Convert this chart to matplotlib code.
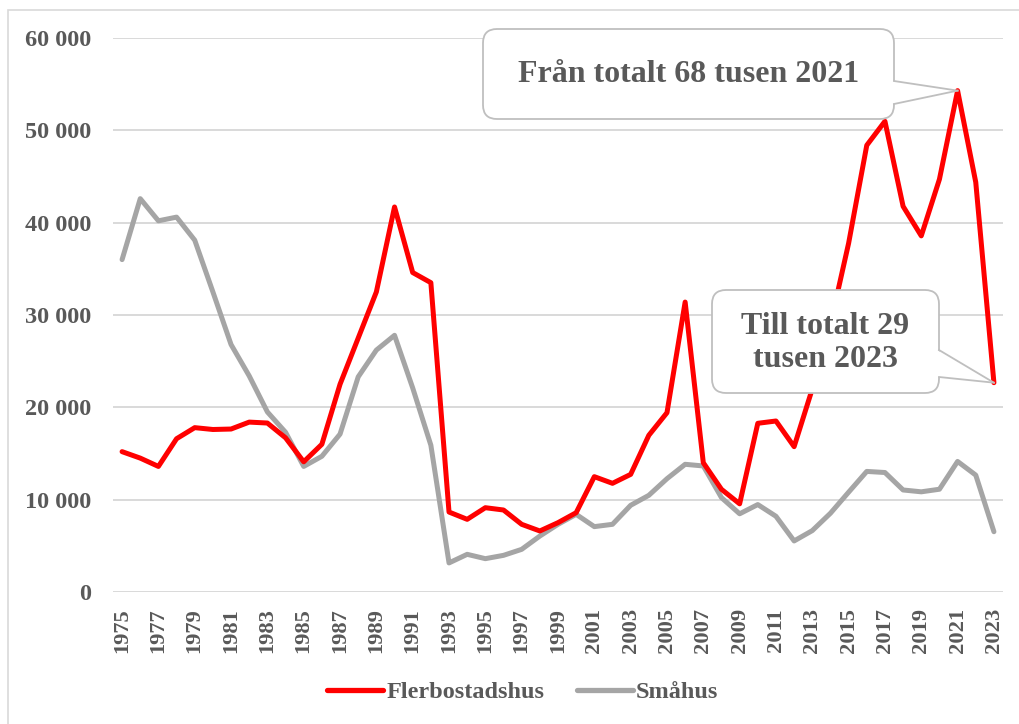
import numpy as np
import matplotlib
matplotlib.use("Agg")
import matplotlib.pyplot as plt
from matplotlib.patches import FancyBboxPatch, Polygon, Rectangle
from matplotlib.lines import Line2D

# bostäder påbörjade per år
years = list(range(1975, 2024))
flerbostadshus = [
    15200, 14500, 13600, 16600, 17800, 17600, 17650, 18400, 18300, 16700,
    14100, 16000, 22500, 27500, 32500, 41700, 34600, 33500, 8660, 7870,
    9130, 8880, 7330, 6610, 7510, 8590, 12490, 11770, 12740, 16970,
    19420, 31400, 14000, 11120, 9550, 18270, 18520, 15740, 22000, 29000,
    37770, 48380, 50980, 41770, 38570, 44700, 54300, 44380, 22670,
]
smahus = [
    36000, 42600, 40200, 40600, 38100, 32500, 26800, 23400, 19500, 17300,
    13600, 14700, 17100, 23300, 26200, 27800, 22100, 15900, 3150, 4080,
    3610, 3970, 4620, 6060, 7330, 8410, 7080, 7330, 9390, 10470,
    12270, 13830, 13650, 10220, 8470, 9470, 8200, 5530, 6650, 8530,
    10810, 13060, 12940, 11050, 10850, 11130, 14140, 12660, 6530,
]
series_names = ["Flerbostadshus", "Småhus"]
y_ticks = [0, 10000, 20000, 30000, 40000, 50000, 60000]
callout_1 = "Från totalt 68 tusen 2021"
callout_2 = "Till totalt 29\ntusen 2023"

RED = "#FF0000"
GREY = "#A5A5A5"
TXT = "#595959"
GRID = "#D9D9D9"
FONT = "Liberation Serif"

W, H = 1019, 724
fig = plt.figure(figsize=(W / 100, H / 100), dpi=100)


def fx(px):
    return px / W


def fy(py):
    return 1 - py / H


# outer chart border (only top/left visible in the crop)
fig.patches.append(Rectangle((fx(8), fy(740)), fx(1030 - 8), fy(10) - fy(740),
                             transform=fig.transFigure, fill=False,
                             edgecolor=GRID, lw=1.2))

ax = fig.add_axes([fx(113), fy(592), fx(1003) - fx(113), fy(38) - fy(592)])
ax.set_xlim(1974.5, 2023.5)
ax.set_ylim(0, 60000)

for s in ax.spines.values():
    s.set_visible(False)
ax.set_yticks(y_ticks)
ax.set_yticklabels([f"{v:,}".replace(",", " ") for v in y_ticks])
ax.yaxis.grid(True, color=GRID, lw=1.4)
ax.set_axisbelow(True)
ax.set_xticks(years[::2])
ax.set_xticklabels([str(y) for y in years[::2]], rotation=90)
ax.tick_params(axis="y", length=0, pad=15.5, labelsize=17.5, labelcolor=TXT)
ax.tick_params(axis="x", length=0, pad=11.5, labelsize=16.2, labelcolor=TXT)
for lab in ax.get_xticklabels() + ax.get_yticklabels():
    lab.set_fontfamily(FONT)
    lab.set_fontweight("bold")

ax.plot(years, flerbostadshus, color=RED, lw=3.6, solid_joinstyle="round",
        solid_capstyle="round", zorder=3)
ax.plot(years, smahus, color=GREY, lw=3.6, solid_joinstyle="round",
        solid_capstyle="round", zorder=2)


def callout(box, base_y, tip_xy, text, size, text_y=None):
    # box = (left, top, right, bottom) in pixels, tip in data coords
    l, t, r, b = box
    tip = ax.transData.transform(tip_xy)
    tipf = fig.transFigure.inverted().transform(tip)
    rad = 14
    fig.patches.append(FancyBboxPatch(
        (fx(l + rad), fy(b - rad)), fx(r - l - 2 * rad), fy(t + rad) - fy(b - rad),
        boxstyle=f"round,pad={rad / W}", transform=fig.transFigure,
        facecolor="white", edgecolor="#BFBFBF", lw=1.3, zorder=5,
        mutation_aspect=W / H))
    y1, y2 = base_y
    fig.patches.append(Polygon(
        [(fx(r - 2), fy(y1)), tuple(tipf), (fx(r - 2), fy(y2))],
        closed=True, transform=fig.transFigure, facecolor="white",
        edgecolor="none", zorder=6))
    for yy in base_y:
        fig.lines.append(Line2D([fx(r), tipf[0]], [fy(yy), tipf[1]],
                                transform=fig.transFigure, color="#BFBFBF",
                                lw=1.3, zorder=7))
    ty = (t + b) / 2 if text_y is None else text_y
    fig.text(fx((l + r) / 2), fy(ty), text, ha="center", va="center",
             fontsize=size, fontfamily=FONT, fontweight="bold", color=TXT,
             linespacing=1.17, zorder=8)


callout((483, 29, 894, 119), (81, 104), (2021, flerbostadshus[years.index(2021)]),
        callout_1, 23, text_y=75)
callout((712, 290, 939, 393), (350, 377), (2023, flerbostadshus[years.index(2023)]),
        callout_2, 23, text_y=343)

handles = [Line2D([], [], color=RED, lw=3.8, solid_capstyle="round"),
           Line2D([], [], color=GREY, lw=3.8, solid_capstyle="round")]
fig.legend(handles, series_names, loc="center", bbox_to_anchor=(fx(523), fy(692)),
           ncol=2, frameon=False, handlelength=2.3, handletextpad=0.15,
           columnspacing=1.3,
           prop={"family": FONT, "weight": "bold", "size": 17.5},
           labelcolor=TXT)

fig.savefig("out.png", dpi=100)
